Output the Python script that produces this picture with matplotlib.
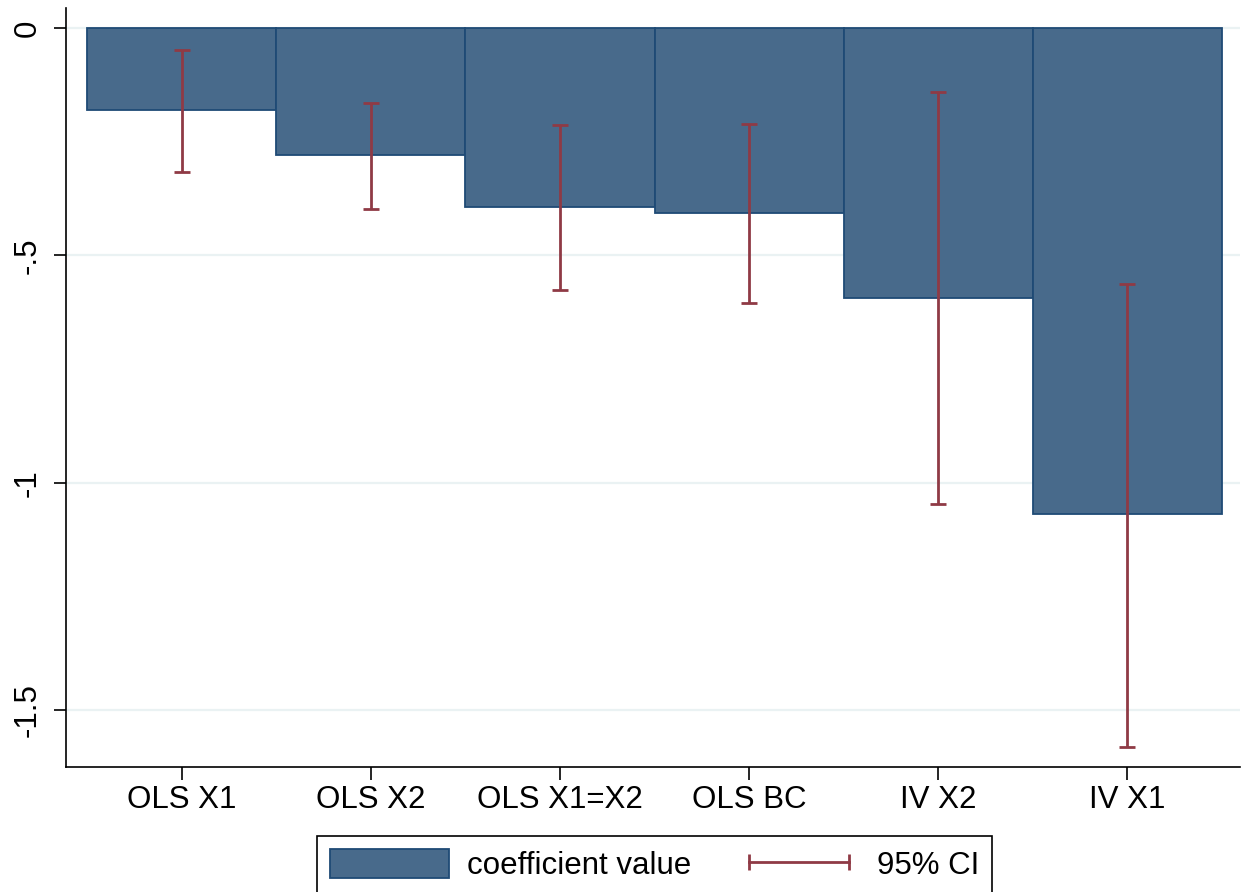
import matplotlib.pyplot as plt
from matplotlib.lines import Line2D
from matplotlib.patches import Patch

plt.switch_backend("AGG")
plt.rcParams["font.family"] = ["Liberation Sans", "DejaVu Sans"]

models = ["OLS X1", "OLS X2", "OLS X1=X2", "OLS BC", "IV X2", "IV X1"]
coef = [-0.180, -0.280, -0.394, -0.407, -0.593, -1.069]
ci_low = [-0.317, -0.398, -0.576, -0.605, -1.047, -1.581]
ci_high = [-0.048, -0.165, -0.213, -0.211, -0.141, -0.563]
yticks = [0, -0.5, -1, -1.5]
ytick_labels = ["0", "-.5", "-1", "-1.5"]

BAR_COLOR = "#486a8b"
BAR_EDGE = "#1f4a75"
CI_COLOR = "#8f3a45"
GRID_COLOR = "#eaf2f3"
FONT_SIZE = 22.5

fig = plt.figure(figsize=(12.44, 8.92), dpi=100)
ax = fig.add_axes([66 / 1244, 125 / 892, 1174 / 1244, 759 / 892])

x = list(range(len(models)))
ax.bar(x, coef, width=1.0, color=BAR_COLOR, edgecolor=BAR_EDGE,
       linewidth=1.3, zorder=2)

# 95% confidence intervals drawn as capped vertical lines
centers = [(lo + hi) / 2 for lo, hi in zip(ci_low, ci_high)]
half = [(hi - lo) / 2 for lo, hi in zip(ci_low, ci_high)]
ax.errorbar(x, centers, yerr=half, fmt="none", ecolor=CI_COLOR,
            elinewidth=2.0, capsize=6, capthick=2.0, zorder=3)

ax.set_xlim(-0.611, 5.595)
ax.set_ylim(-1.625, 0.044)

ax.set_yticks(yticks)
ax.set_yticklabels(ytick_labels, rotation=90, va="center")
ax.set_xticks(x)
ax.set_xticklabels(models)

ax.yaxis.grid(True, color=GRID_COLOR, linewidth=1.6, zorder=0)
ax.set_axisbelow(True)

for side in ("top", "right"):
    ax.spines[side].set_visible(False)
for side in ("left", "bottom"):
    ax.spines[side].set_linewidth(1.2)
    ax.spines[side].set_color("black")

ax.tick_params(axis="both", which="major", labelsize=FONT_SIZE,
               length=9, width=1.2, colors="black")
ax.tick_params(axis="x", pad=4)
ax.tick_params(axis="y", pad=8)

handles = [
    Patch(facecolor=BAR_COLOR, edgecolor=BAR_EDGE, linewidth=1.3),
    Line2D([], [], color=CI_COLOR, linewidth=2.0, marker="|",
           markersize=11, markeredgewidth=2.0),
]
leg = fig.legend(handles, ["coefficient value", "95% CI"],
                 loc="upper center", bbox_to_anchor=(654.5 / 1244, 1 - 836 / 892),
                 ncol=2, fontsize=FONT_SIZE, frameon=True, fancybox=False,
                 shadow=False, framealpha=1, edgecolor="black",
                 handlelength=3.8, handleheight=1.05, handletextpad=0.58,
                 columnspacing=1.55, numpoints=2, borderpad=0.42,
                 borderaxespad=0)
leg.get_frame().set_linewidth(1.2)

fig.savefig("out.png", dpi=100)
